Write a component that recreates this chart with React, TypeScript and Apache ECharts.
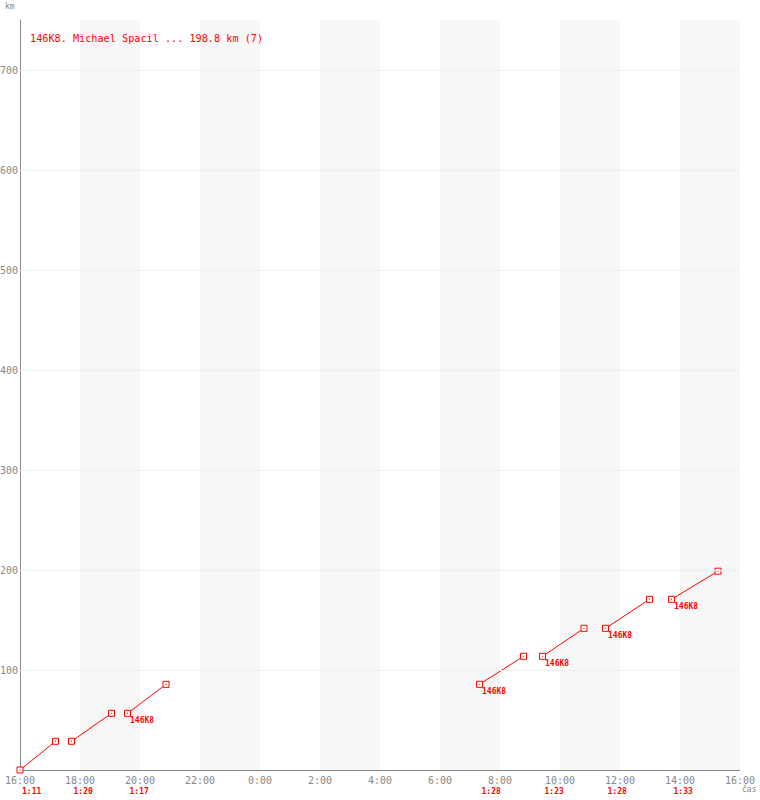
import { useEffect, useRef } from 'react';
import * as echarts from 'echarts';

// ---- data ----
const titleText = '146K8. Michael Spacil ... 198.8 km (7)';
const pilotCode = '146K8';
const legStarts = ['16:00', '17:43', '19:35', '7:19', '9:25', '11:31', '13:43'];
const legDurations = ['1:11', '1:20', '1:17', '1:28', '1:23', '1:28', '1:33'];
const kmStart = [0, 28.7, 56.7, 85.7, 113.7, 141.7, 170.7];
const kmEnd = [28.7, 56.7, 85.7, 113.7, 141.7, 170.7, 198.8];
const showCode = [false, false, true, true, true, true, true];
const stripeStarts = ['18:00', '22:00', '2:00', '6:00', '10:00', '14:00'];
const yGridValues = [100, 200, 300, 400, 500, 600, 700];
const axisStartHour = 16;

const RED = '#ff0000';
const GRAY = '#888888';
const MONO = '"DejaVu Sans Mono", "Liberation Mono", monospace';

const hm = (s: string) => {
  const [h, m] = s.split(':').map(Number);
  return h * 60 + m;
};
const toX = (s: string) => (hm(s) - axisStartHour * 60 + 1440) % 1440;

export default function App() {
  const ref = useRef<HTMLDivElement>(null);

  useEffect(() => {
    if (!ref.current) return;
    const chart = echarts.init(ref.current, undefined, { renderer: 'svg' });

    const starts = legStarts.map(toX);
    const ends = starts.map((s, i) => s + hm(legDurations[i]));

    const legSeries: any[] = starts.map((s, i) => ({
      type: 'line',
      z: 3,
      symbol: 'rect',
      symbolSize: 6,
      showSymbol: true,
      lineStyle: { color: RED, width: 1 },
      itemStyle: { color: '#ffffff', borderColor: RED, borderWidth: 1 },
      emphasis: { disabled: true },
      data: [
        {
          value: [s, kmStart[i]],
          label: {
            show: showCode[i],
            formatter: pilotCode,
            position: [6, 7],
            align: 'left',
            verticalAlign: 'top',
            color: RED,
            fontFamily: MONO,
            fontWeight: 'bold',
            fontSize: 8,
          },
        },
        { value: [ends[i], kmEnd[i]] },
      ],
    }));

    const dotData: number[][] = [];
    starts.forEach((s, i) => {
      dotData.push([s, kmStart[i]]);
      dotData.push([ends[i], kmEnd[i]]);
    });

    const option: any = {
      animation: false,
      backgroundColor: '#ffffff',
      grid: {
        left: 20,
        right: 20,
        top: 20,
        bottom: 30,
        containLabel: false,
        outerBoundsMode: 'none',
      },
      xAxis: {
        type: 'value',
        min: 0,
        max: 1440,
        interval: 120,
        axisLine: { show: true, lineStyle: { color: GRAY, width: 1 } },
        axisTick: { show: false },
        splitLine: { show: false },
        axisLabel: {
          color: GRAY,
          fontFamily: MONO,
          fontSize: 10,
          margin: 5,
          hideOverlap: false,
          formatter: (v: number) => `${(axisStartHour + v / 60) % 24}:00`,
        },
      },
      yAxis: {
        type: 'value',
        min: 0,
        max: 750,
        interval: 100,
        axisLine: { show: true, lineStyle: { color: GRAY, width: 1 } },
        axisTick: { show: false },
        splitLine: { show: false },
        axisLabel: {
          color: GRAY,
          fontFamily: MONO,
          fontSize: 10,
          margin: 2,
          formatter: (v: number) => (v === 0 || v > 700 ? '' : String(v)),
        },
      },
      graphic: [
        {
          type: 'text',
          z: 100,
          x: 30,
          y: 38,
          style: {
            text: titleText,
            fill: RED,
            font: `10.2px ${MONO}`,
            textAlign: 'left',
            textVerticalAlign: 'middle',
          },
        },
        {
          type: 'text',
          z: 100,
          x: 5,
          y: 6,
          style: { text: 'km', fill: GRAY, font: `8px ${MONO}`, textAlign: 'left', textVerticalAlign: 'middle' },
        },
        {
          type: 'text',
          z: 100,
          x: 742,
          y: 789,
          style: { text: 'čas', fill: GRAY, font: `8px ${MONO}`, textAlign: 'left', textVerticalAlign: 'middle' },
        },
      ],
      series: [
        {
          type: 'line',
          z: 1,
          data: [],
          silent: true,
          markArea: {
            silent: true,
            itemStyle: { color: '#f7f7f7' },
            data: stripeStarts.map((s) => [{ xAxis: toX(s) }, { xAxis: toX(s) + 120 }]),
          },
          markLine: {
            silent: true,
            symbol: 'none',
            label: { show: false },
            lineStyle: { color: '#eeeeee', width: 1, type: 'solid' },
            data: yGridValues.map((v) => ({ yAxis: v })),
          },
        },
        ...legSeries,
        {
          type: 'scatter',
          z: 4,
          symbol: 'rect',
          symbolSize: 1.2,
          itemStyle: { color: RED },
          silent: true,
          data: dotData,
        },
        {
          type: 'custom',
          clip: false,
          silent: true,
          data: starts.map((s, i) => [s, 0, i]),
          renderItem: (params: any, api: any) => {
            const p = api.coord([api.value(0), 0]);
            return {
              type: 'text',
              x: p[0] + 2,
              y: p[1] + 21,
              style: {
                text: legDurations[params.dataIndex],
                fill: RED,
                font: `bold 8px ${MONO}`,
                textAlign: 'left',
                textVerticalAlign: 'middle',
              },
            };
          },
        },
      ],
    };

    chart.setOption(option);
    return () => chart.dispose();
  }, []);

  return (
    <div
      ref={ref}
      style={{ position: 'absolute', left: 0, top: 0, width: 760, height: 800 }}
    />
  );
}
